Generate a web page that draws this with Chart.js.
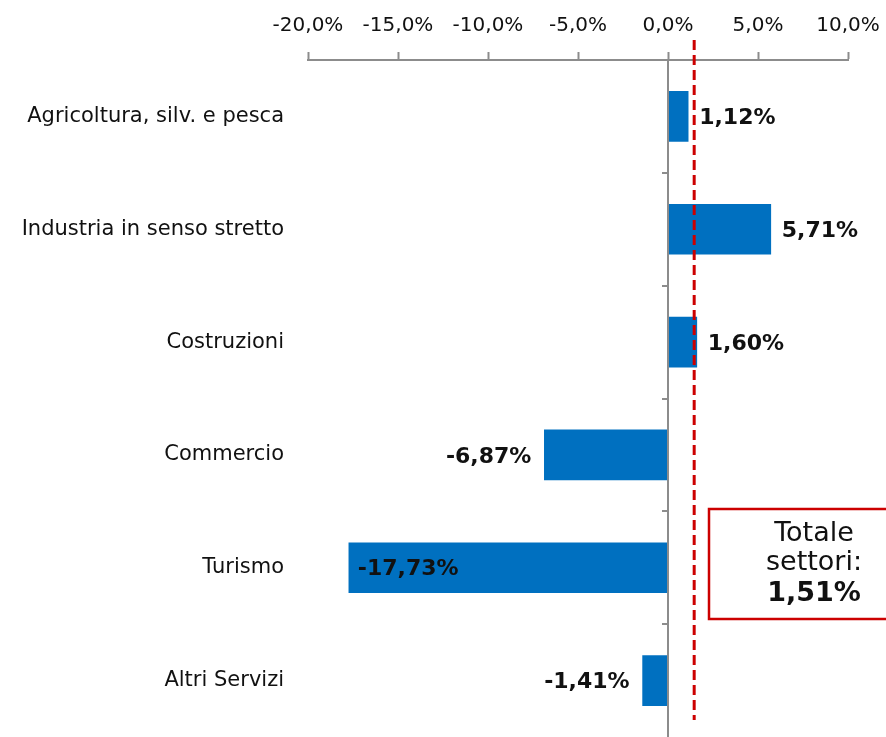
<!DOCTYPE html>
<html>
<head>
<meta charset="utf-8">
<script src="https://cdn.jsdelivr.net/npm/chart.js@4"></script>
<style>
  html, body { margin: 0; padding: 0; background: #fff; }
  #wrap { position: relative; width: 886px; height: 737px; }
</style>
</head>
<body>
<div id="wrap"><canvas id="chart" width="886" height="737"></canvas></div>
<script>
// Dati: variazione % per settore
const settori = [
    'Agricoltura, silv. e pesca',
    'Industria in senso stretto',
    'Costruzioni',
    'Commercio',
    'Turismo',
    'Altri Servizi'
];
const variazioni = [1.12, 5.71, 1.60, -6.87, -17.73, -1.41];
const totaleSettori = 1.51;
const xTicks = [-20, -15, -10, -5, 0, 5, 10];

const FONT = "'DejaVu Sans', Verdana, sans-serif";
const BLU = '#0070c0';
const ROSSO = '#cc0000';
const GRIGIO = '#8c8c8c';

const fmt = (v, d) => v.toFixed(d).replace('.', ',') + '%';

// plugin: linea zero, tacche asse y, linea totale, etichette, riquadro
const overlay = {
    id: 'overlay',
    afterDatasetsDraw(chart) {
        const { ctx, chartArea, scales } = chart;
        const x = scales.x, y = scales.y;
        const x0 = x.getPixelForValue(0);
        const band = y.getPixelForValue(1) - y.getPixelForValue(0);

        ctx.save();
        // asse verticale a zero
        ctx.strokeStyle = GRIGIO;
        ctx.lineWidth = 2;
        ctx.beginPath();
        ctx.moveTo(x0, chartArea.top);
        ctx.lineTo(x0, chartArea.bottom);
        ctx.stroke();
        // tacche tra le categorie
        for (let i = 1; i < settori.length; i++) {
            const yy = Math.round(y.getPixelForValue(i) - band / 2);
            ctx.beginPath();
            ctx.moveTo(x0 - 6, yy);
            ctx.lineTo(x0, yy);
            ctx.stroke();
        }

        // linea tratteggiata del totale
        const xt = x.getPixelForValue(totaleSettori) - 1;
        ctx.strokeStyle = ROSSO;
        ctx.lineWidth = 3;
        ctx.setLineDash([10, 5]);
        ctx.beginPath();
        ctx.moveTo(xt, chartArea.top - 20);
        ctx.lineTo(xt, chartArea.bottom - 17);
        ctx.stroke();
        ctx.setLineDash([]);

        // etichette dei valori
        ctx.fillStyle = '#111';
        ctx.font = 'bold 22px ' + FONT;
        ctx.textBaseline = 'middle';
        const meta = chart.getDatasetMeta(0);
        meta.data.forEach((bar, i) => {
            const v = variazioni[i];
            const txt = fmt(v, 2);
            const yy = bar.y + 2;
            if (v >= 0) {
                ctx.textAlign = 'left';
                ctx.fillText(txt, bar.x + 11, yy);
            } else if (v < -10) {
                // barra lunga: etichetta dentro
                ctx.textAlign = 'left';
                ctx.fillText(txt, bar.x + 9, yy);
            } else {
                ctx.textAlign = 'right';
                ctx.fillText(txt, bar.x - 13, yy);
            }
        });

        // riquadro "Totale settori"
        const bx = 709, by = 509, bw = 190, bh = 110;
        ctx.strokeStyle = ROSSO;
        ctx.lineWidth = 2.5;
        ctx.strokeRect(bx, by, bw, bh);
        ctx.fillStyle = '#111';
        ctx.textAlign = 'center';
        ctx.textBaseline = 'middle';
        ctx.font = '27px ' + FONT;
        ctx.fillText('Totale', 814, 534);
        ctx.fillText('settori:', 814, 563);
        ctx.font = 'bold 27px ' + FONT;
        ctx.fillText(fmt(totaleSettori, 2), 814, 594);
        ctx.restore();
    }
};

new Chart(document.getElementById('chart'), {
    type: 'bar',
    data: {
        labels: settori,
        datasets: [{
            data: variazioni,
            backgroundColor: BLU,
            borderWidth: 0,
            barThickness: 50
        }]
    },
    options: {
        indexAxis: 'y',
        responsive: false,
        animation: false,
        layout: { padding: { left: 0, right: 38, top: 0, bottom: 0 } },
        plugins: {
            legend: { display: false },
            tooltip: { enabled: false }
        },
        scales: {
            x: {
                position: 'top',
                min: -20,
                max: 10,
                afterBuildTicks: (scale) => {
                    scale.ticks = xTicks.map(v => ({ value: v }));
                },
                afterFit: (scale) => {
                    scale.height = 60;
                    scale.paddingLeft = 0;
                    scale.paddingRight = 0;
                },
                grid: {
                    drawOnChartArea: false,
                    drawTicks: true,
                    tickLength: 8,
                    tickColor: GRIGIO,
                    tickWidth: 2
                },
                border: { color: GRIGIO, width: 2 },
                ticks: {
                    color: '#111',
                    padding: 14,
                    maxRotation: 0,
                    font: { family: FONT, size: 20 },
                    callback: (v) => fmt(v, 1)
                }
            },
            y: {
                afterFit: (scale) => {
                    scale.width = 308;
                    scale.paddingTop = 0;
                    scale.paddingBottom = 0;
                },
                grid: { display: false, drawTicks: false },
                border: { display: false },
                ticks: {
                    color: '#111',
                    padding: 24,
                    font: { family: FONT, size: 21 }
                }
            }
        }
    },
    plugins: [overlay]
});
</script>
</body>
</html>
